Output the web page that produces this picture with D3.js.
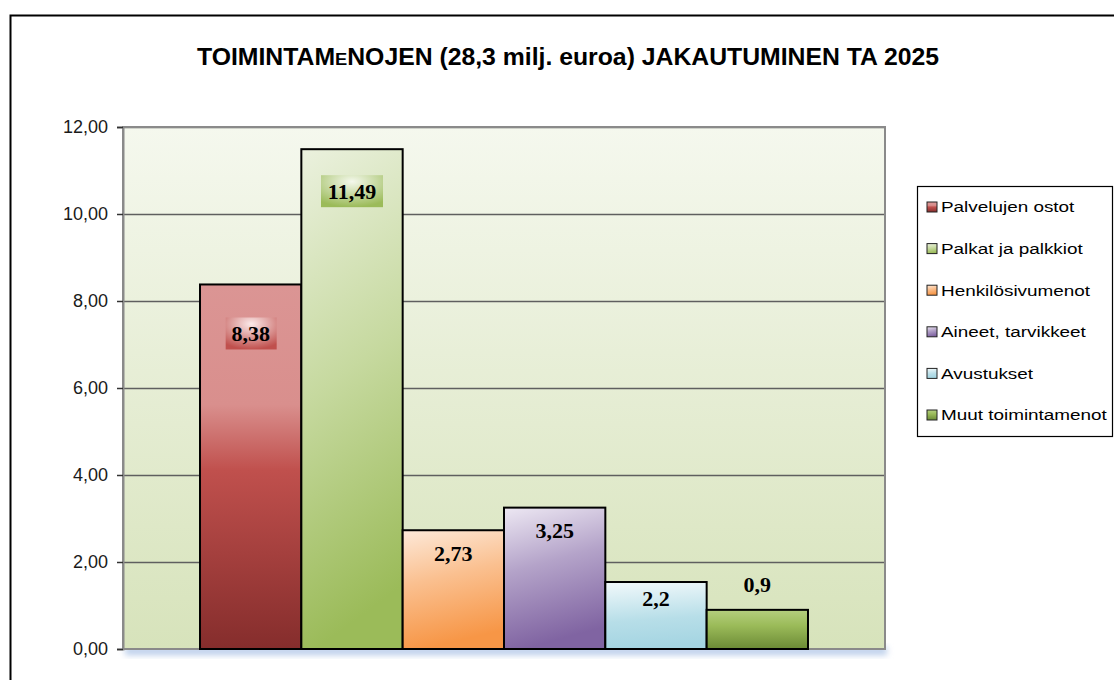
<!DOCTYPE html>
<html>
<head>
<meta charset="utf-8">
<script src="https://cdn.jsdelivr.net/npm/d3@7"></script>
<style>
  body { margin:0; background:#fff; }
  svg { display:block; font-family:"Liberation Sans", Arial, sans-serif; }
</style>
</head>
<body>
<svg id="chart"></svg>
<script>
// data
var series = ["Palvelujen ostot","Palkat ja palkkiot","Henkilösivumenot",
              "Aineet, tarvikkeet","Avustukset","Muut toimintamenot"];
var values = [8.38, 11.49, 2.73, 3.25, 1.54, 0.9];
var valueLabels = ["8,38","11,49","2,73","3,25","2,2","0,9"];
var yTicks = [0,2,4,6,8,10,12];
var title = "TOIMINTAMENOJEN (28,3 milj. euroa) JAKAUTUMINEN TA 2025";

// gradient stops per bar (top -> bottom)
var barStops = [
  [[0,"#db9594"],[0.33,"#d98f8d"],[0.51,"#c0504d"],[1,"#852d2c"]],
  [[0,"#ebf1de"],[0.5,"#c6d99f"],[1,"#9bbb59"]],
  [[0,"#fde9d9"],[0.45,"#fac090"],[1,"#f79646"]],
  [[0,"#ede8f3"],[0.45,"#b4a3c9"],[1,"#8064a2"]],
  [[0,"#f2f9fb"],[0.6,"#b7dee8"],[1,"#a5d5e2"]],
  [[0,"#b5cf7f"],[0.4,"#9bbb59"],[1,"#6b8a35"]]
];
var barSlant = [0, 0.15, 0.2, 0.2, 0.1, 0];
var labelDy = [49, 42, 23, 23, 16, -26];

var screen = {width:1114, height:680};
var margins = {top:127, left:123, right:229, bottom:31};
var graph = {
  width: screen.width - margins.left - margins.right,
  height: screen.height - margins.top - margins.bottom
};

var svg = d3.select("#chart")
  .attr("width", screen.width)
  .attr("height", screen.height);

var defs = svg.append("defs");

var bg = defs.append("linearGradient").attr("id","plotbg")
  .attr("x1",0).attr("y1",0).attr("x2",0).attr("y2",1);
bg.append("stop").attr("offset",0).attr("stop-color","#f5f8ee");
bg.append("stop").attr("offset",1).attr("stop-color","#d7e3bb");

barStops.forEach(function(stops,i){
  var g = defs.append("linearGradient").attr("id","bar"+i)
    .attr("x1",0).attr("y1",0).attr("x2",barSlant[i]).attr("y2",1);
  stops.forEach(function(s){
    g.append("stop").attr("offset",s[0]).attr("stop-color",s[1]);
  });
});

// label box gradients (light centre)
[["#c0504d","#fbeaea"],["#9bbb59","#f4f8ec"]].forEach(function(c,i){
  var r = defs.append("radialGradient").attr("id","lab"+i)
    .attr("cx",0.5).attr("cy",0.2).attr("r",0.8);
  r.append("stop").attr("offset",0).attr("stop-color",c[1]);
  r.append("stop").attr("offset",1).attr("stop-color",c[0]);
});

var blur = defs.append("filter").attr("id","shadow")
  .attr("x","-5%").attr("y","-50%").attr("width","110%").attr("height","200%");
blur.append("feGaussianBlur").attr("stdDeviation",3);

// outer frame
svg.append("rect")
  .attr("x",10.5).attr("y",15.5)
  .attr("width",1120).attr("height",700)
  .attr("fill","none").attr("stroke","#000").attr("stroke-width",2);

// title
var t = svg.append("text")
  .attr("x",568).attr("y",65)
  .attr("text-anchor","middle")
  .attr("font-weight","bold")
  .attr("font-size",23)
  .attr("textLength",742)
  .attr("lengthAdjust","spacingAndGlyphs");
t.append("tspan").text("TOIMINTAM");
t.append("tspan").attr("font-size",17).text("E");
t.append("tspan").text(title.slice(10));

var xScale = d3.scaleBand()
  .domain(series)
  .range([0, graph.width])
  .paddingInner(0)
  .paddingOuter(0.76);

var yScale = d3.scaleLinear()
  .domain([0,12])
  .range([graph.height,0]);

var g = svg.append("g")
  .attr("transform","translate("+margins.left+","+margins.top+")");

// shadow under plot area
g.append("rect")
  .attr("x",2).attr("y",graph.height-2)
  .attr("width",graph.width).attr("height",8)
  .attr("fill","#b9cdea")
  .attr("filter","url(#shadow)");

g.append("rect")
  .attr("width",graph.width).attr("height",graph.height)
  .attr("fill","url(#plotbg)");

// gridlines
g.append("g").selectAll("line")
  .data(yTicks.slice(1))
  .enter().append("line")
  .attr("x1",0).attr("x2",graph.width)
  .attr("y1",function(d){return Math.round(yScale(d))+0.5;})
  .attr("y2",function(d){return Math.round(yScale(d))+0.5;})
  .attr("stroke","#5f5f5f").attr("stroke-width",1.5);

g.append("rect")
  .attr("width",graph.width).attr("height",graph.height)
  .attr("fill","none").attr("stroke","#8a8a8a").attr("stroke-width",2);

// y axis
var yAxis = d3.axisLeft(yScale)
  .tickValues(yTicks)
  .tickSize(6)
  .tickPadding(9)
  .tickFormat(function(d){ return d3.format(".2f")(d).replace(".",","); });

var ax = g.append("g").call(yAxis);
ax.select(".domain").attr("stroke","#8a8a8a").attr("stroke-width",2);
ax.selectAll(".tick line").attr("stroke","#333").attr("stroke-width",1.5);
ax.selectAll(".tick text")
  .attr("font-family","'Liberation Sans', Arial, sans-serif")
  .attr("font-size",18).attr("fill","#1a1a1a");

// bars
g.append("g").selectAll("rect")
  .data(values)
  .enter().append("rect")
  .attr("x",function(d,i){return xScale(series[i]);})
  .attr("y",function(d){return yScale(d);})
  .attr("width",xScale.bandwidth())
  .attr("height",function(d){return graph.height-yScale(d);})
  .attr("fill",function(d,i){return "url(#bar"+i+")";})
  .attr("stroke","#000").attr("stroke-width",2);

// axis baseline
g.append("line")
  .attr("x1",xScale(series[0])).attr("x2",xScale(series[5])+xScale.bandwidth())
  .attr("y1",graph.height).attr("y2",graph.height)
  .attr("stroke","#000").attr("stroke-width",2);

// value labels
var labels = g.append("g").selectAll("g")
  .data(values)
  .enter().append("g")
  .attr("transform",function(d,i){
    return "translate("+(xScale(series[i])+xScale.bandwidth()/2)+","+(yScale(d)+labelDy[i])+")";
  });

labels.filter(function(d,i){return i<2;})
  .append("rect")
  .attr("x",function(d,i){return i==0?-25:-31;})
  .attr("y",-16)
  .attr("width",function(d,i){return i==0?51:62;})
  .attr("height",32)
  .attr("fill",function(d,i){return "url(#lab"+i+")";});

labels.append("text")
  .attr("text-anchor","middle")
  .attr("dy","0.35em")
  .attr("font-family","'Liberation Serif','Times New Roman',serif")
  .attr("font-weight","bold")
  .attr("font-size",22)
  .text(function(d,i){return valueLabels[i];});

// legend
var legend = svg.append("g").attr("transform","translate(917,186)");
legend.append("rect")
  .attr("x",0.5).attr("y",0.5).attr("width",195).attr("height",250)
  .attr("fill","#fff").attr("stroke","#000").attr("stroke-width",1.2);

var items = legend.selectAll("g.item")
  .data(series)
  .enter().append("g")
  .attr("class","item")
  .attr("transform",function(d,i){return "translate(10,"+(21+i*41.6)+")";});

items.append("rect")
  .attr("x",0).attr("y",-5).attr("width",10).attr("height",10)
  .attr("fill",function(d,i){return "url(#bar"+i+")";})
  .attr("stroke","#222").attr("stroke-width",1);

items.append("text")
  .attr("transform","translate(14,0) scale(1.22,1)")
  .attr("dy","0.35em")
  .attr("font-size",15.5).attr("fill","#000")
  .text(function(d){return d;});
</script>
</body>
</html>
